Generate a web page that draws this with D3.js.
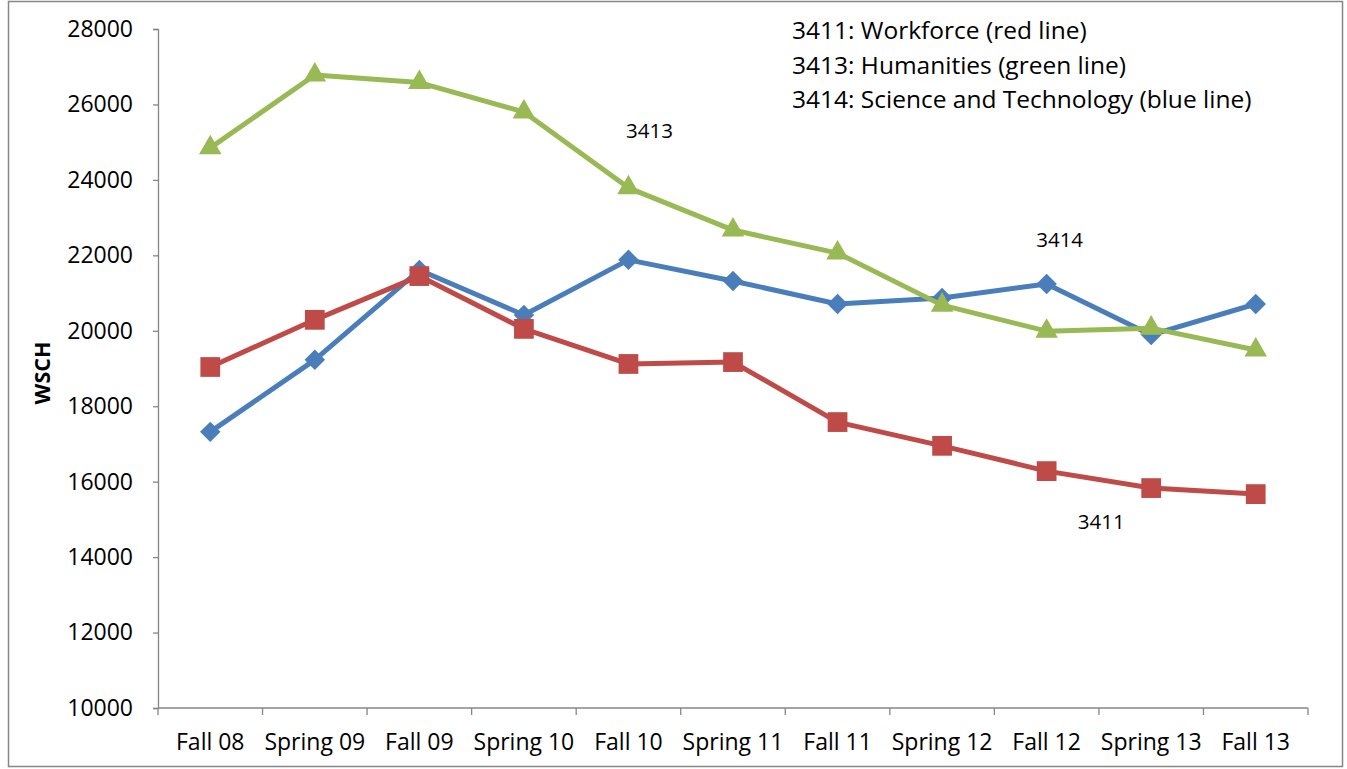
<!DOCTYPE html>
<html>
<head>
<meta charset="utf-8">
<script src="https://cdn.jsdelivr.net/npm/d3@7"></script>
<style>
  body { margin: 0; background: #fff; }
  svg { display: block; font-family: "Open Sans", sans-serif; }
</style>
</head>
<body>
<svg id="chart" width="1347" height="769"></svg>
<script>
// data
const terms = ["Fall 08", "Spring 09", "Fall 09", "Spring 10", "Fall 10", "Spring 11",
               "Fall 11", "Spring 12", "Fall 12", "Spring 13", "Fall 13"];
const workforce = [19040, 20290, 21450, 20050, 19120, 19170, 17580, 16950, 16280, 15830, 15670];
const humanities = [24850, 26780, 26580, 25800, 23790, 22670, 22060, 20680, 19990, 20070, 19490];
const science = [17320, 19230, 21610, 20420, 21880, 21320, 20710, 20870, 21240, 19890, 20710];
const yTicks = [10000, 12000, 14000, 16000, 18000, 20000, 22000, 24000, 26000, 28000];
const legendLines = ["3411: Workforce (red line)", "3413: Humanities (green line)",
                     "3414: Science and Technology (blue line)"];

const svg = d3.select("#chart");
const plot = {left: 158, right: 1308, top: 29, bottom: 708};

// outer frame
svg.append("rect")
    .attr("x", 8.5).attr("y", 1.5)
    .attr("width", 1334).attr("height", 765)
    .attr("fill", "none").attr("stroke", "#868686").attr("stroke-width", 1.5);

const x = d3.scaleBand().domain(terms).range([plot.left, plot.right]);
const y = d3.scaleLinear().domain([10000, 28000]).range([plot.bottom, plot.top]);

// y axis
const yAxis = svg.append("g")
    .attr("transform", `translate(${plot.left},0)`)
    .call(d3.axisLeft(y).tickValues(yTicks).tickSize(5).tickPadding(20).tickFormat(d3.format("d")));
yAxis.selectAll("path, line").attr("stroke", "#868686").attr("stroke-width", 1.3);
yAxis.selectAll("text").attr("font-size", 23).attr("fill", "#000")
    .attr("font-family", "'Open Sans', sans-serif");

// x axis, ticks sit between the categories
const xAxis = svg.append("g").attr("transform", `translate(0,${plot.bottom})`);
xAxis.append("line")
    .attr("x1", plot.left).attr("x2", plot.right)
    .attr("stroke", "#868686").attr("stroke-width", 1.3);
const edges = terms.map(t => x(t)).concat([plot.right]);
xAxis.selectAll(".tick").data(edges).enter().append("line")
    .attr("x1", d => d).attr("x2", d => d)
    .attr("y1", 0).attr("y2", 7)
    .attr("stroke", "#868686").attr("stroke-width", 1.3);
xAxis.selectAll(".lbl").data(terms).enter().append("text")
    .attr("x", d => x(d) + x.bandwidth() / 2)
    .attr("y", 42)
    .attr("text-anchor", "middle")
    .attr("font-size", 23)
    .text(d => d);

// y axis title
svg.append("text")
    .attr("transform", "translate(50,373) rotate(-90)")
    .attr("text-anchor", "middle")
    .attr("font-size", 21.5).attr("font-weight", "bold")
    .text("WSCH");

const cx = d => x(d) + x.bandwidth() / 2;
const series = [
    {values: science, color: "#4A7EBB", shape: d3.symbolSquare, size: 210, rotate: 45},
    {values: workforce, color: "#BE4B48", shape: d3.symbolSquare, size: 390, rotate: 0},
    {values: humanities, color: "#98B954", shape: d3.symbolTriangle, size: 220, rotate: 0}
];

const line = d3.line()
    .x((d, i) => cx(terms[i]))
    .y(d => y(d));

series.forEach(s => {
    svg.append("path")
        .datum(s.values)
        .attr("d", line)
        .attr("fill", "none")
        .attr("stroke", s.color)
        .attr("stroke-width", 5)
        .attr("stroke-linejoin", "round");
    svg.selectAll(null)
        .data(s.values)
        .enter().append("path")
        .attr("d", d3.symbol().type(s.shape).size(s.size))
        .attr("transform", (d, i) => `translate(${cx(terms[i])},${y(d)}) rotate(${s.rotate})`)
        .attr("fill", s.color);
});

// series annotations (dx in pixels from the category centre)
const notes = [
    {text: "3413", term: "Fall 10", value: 25110, dx: 21},
    {text: "3414", term: "Fall 12", value: 22220, dx: 13},
    {text: "3411", term: "Spring 13", value: 14740, dx: -50}
];
svg.selectAll(".note").data(notes).enter().append("text")
    .attr("x", d => cx(d.term) + d.dx)
    .attr("y", d => y(d.value))
    .attr("text-anchor", "middle")
    .attr("font-size", 20.5)
    .text(d => d.text);

// legend text
svg.selectAll(".legend").data(legendLines).enter().append("text")
    .attr("x", 792)
    .attr("y", (d, i) => 39 + i * 34.5)
    .attr("font-size", 24.5)
    .text(d => d);
</script>
</body>
</html>
